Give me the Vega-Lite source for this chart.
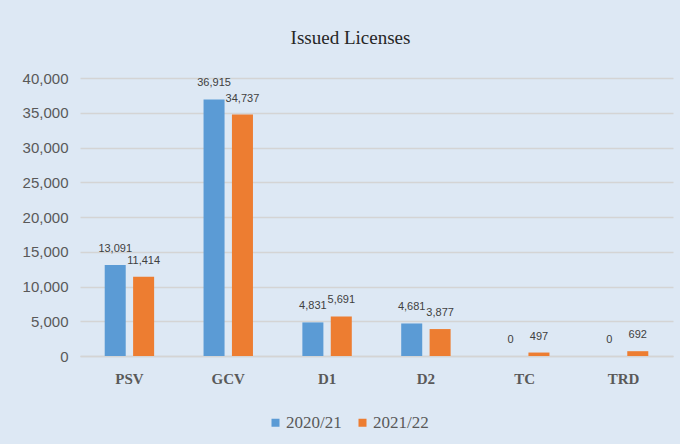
{
  "$schema": "https://vega.github.io/schema/vega-lite/v6.json",
  "width": 593,
  "height": 278,
  "autosize": {"type": "none"},
  "padding": {"left": 80, "top": 78, "right": 7, "bottom": 88},
  "background": "#dde8f4",
  "title": {
    "text": "Issued Licenses",
    "font": "Liberation Serif",
    "fontSize": 19,
    "fontWeight": "normal",
    "color": "#262626",
    "anchor": "middle",
    "frame": "group",
    "offset": 23,
    "dx": -26
  },
  "config": {
    "view": {"stroke": null},
    "legend": {"padding": 0}
  },
  "data": {
    "values": [
      {"category": "PSV", "year": "2020/21", "value": 13091},
      {"category": "PSV", "year": "2021/22", "value": 11414},
      {"category": "GCV", "year": "2020/21", "value": 36915},
      {"category": "GCV", "year": "2021/22", "value": 34737},
      {"category": "D1", "year": "2020/21", "value": 4831},
      {"category": "D1", "year": "2021/22", "value": 5691},
      {"category": "D2", "year": "2020/21", "value": 4681},
      {"category": "D2", "year": "2021/22", "value": 3877},
      {"category": "TC", "year": "2020/21", "value": 0},
      {"category": "TC", "year": "2021/22", "value": 497},
      {"category": "TRD", "year": "2020/21", "value": 0},
      {"category": "TRD", "year": "2021/22", "value": 692}
    ]
  },
  "encoding": {
    "x": {
      "field": "category",
      "type": "nominal",
      "sort": ["PSV", "GCV", "D1", "D2", "TC", "TRD"],
      "scale": {"paddingInner": 0.5, "paddingOuter": 0.25},
      "axis": {
        "title": null,
        "labelAngle": 0,
        "labelFont": "Liberation Serif",
        "labelFontWeight": "bold",
        "labelFontSize": 15,
        "labelColor": "#595959",
        "labelPadding": 15,
        "ticks": false,
        "domainColor": "#d4d4d4",
        "domainWidth": 1.5
      }
    },
    "xOffset": {
      "field": "year",
      "type": "nominal",
      "scale": {"paddingInner": 0.26, "paddingOuter": 0}
    },
    "y": {
      "field": "value",
      "type": "quantitative",
      "scale": {"domain": [0, 40000]},
      "axis": {
        "title": null,
        "values": [0, 5000, 10000, 15000, 20000, 25000, 30000, 35000, 40000],
        "format": ",d",
        "labelFont": "Liberation Sans",
        "labelFontSize": 15,
        "labelColor": "#595959",
        "labelPadding": 12,
        "ticks": false,
        "domain": false,
        "gridColor": "#d4d4d4",
        "gridWidth": 1.5
      }
    }
  },
  "layer": [
    {
      "mark": {"type": "bar"},
      "encoding": {
        "color": {
          "field": "year",
          "type": "nominal",
          "scale": {"domain": ["2020/21", "2021/22"], "range": ["#5b9bd5", "#ed7d31"]},
          "legend": {
            "title": null,
            "orient": "none",
            "direction": "horizontal",
            "legendX": 187,
            "legendY": 336,
            "symbolType": "square",
            "symbolSize": 64,
            "symbolStrokeWidth": 0,
            "labelFont": "Liberation Serif",
            "labelFontSize": 17,
            "labelColor": "#595959",
            "labelOffset": 2,
            "columnPadding": 12
          }
        }
      }
    },
    {
      "mark": {
        "type": "text",
        "baseline": "bottom",
        "dy": -11,
        "font": "Liberation Sans",
        "fontSize": 11,
        "color": "#404040"
      },
      "encoding": {
        "text": {"field": "value", "type": "quantitative", "format": ",d"}
      }
    }
  ]
}
